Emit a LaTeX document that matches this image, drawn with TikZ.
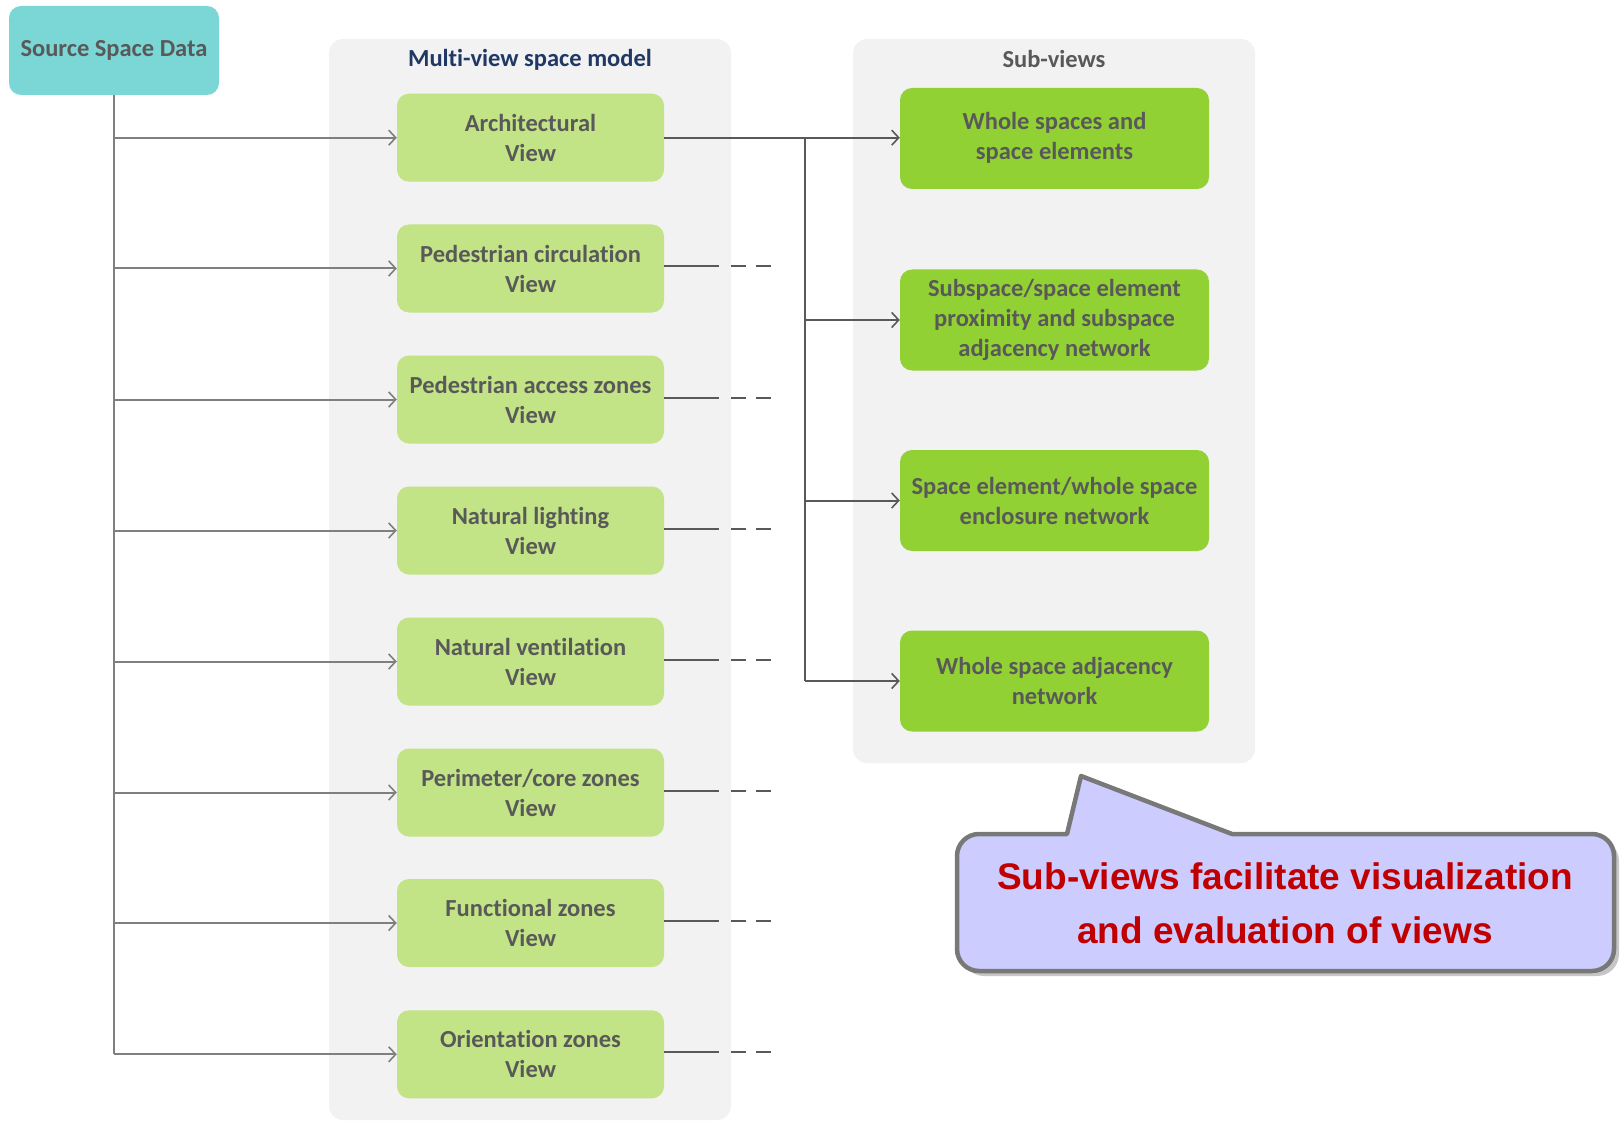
\documentclass[tikz,border=0pt]{standalone}
\usepackage{fontspec}
\setmainfont{Carlito}[Ligatures=NoCommon]
\newfontfamily\arialfont{Liberation Sans}
\usetikzlibrary{arrows.meta,shadows}
\definecolor{txtgray}{HTML}{595959}
\definecolor{navy}{HTML}{1F3864}
\definecolor{srcfill}{HTML}{7AD7D6}
\definecolor{lightgreen}{HTML}{C2E386}
\definecolor{darkgreen}{HTML}{92D134}
\definecolor{panelgray}{HTML}{F2F2F2}
\definecolor{leftline}{HTML}{7F7F7F}
\definecolor{rightline}{HTML}{595959}
\definecolor{calloutfill}{HTML}{CCCCFF}
\definecolor{calloutline}{HTML}{787878}
\definecolor{calloutred}{HTML}{C00000}
\tikzset{
  boxtext/.style={font=\bfseries\fontsize{24.5}{30}\selectfont, text=txtgray, align=center},
  srcbox/.style={boxtext, fill=srcfill, rounded corners=12pt, minimum width=210pt, minimum height=88pt},
  viewbox/.style={boxtext, fill=lightgreen, rounded corners=12pt, minimum width=267pt, minimum height=88pt},
  subbox/.style={boxtext, fill=darkgreen, rounded corners=12pt, minimum width=309pt, minimum height=101pt},
  panel/.style={fill=panelgray, rounded corners=14pt},
  barb/.style={-{Straight Barb[length=7pt,width=15pt,line width=1.6pt]}},
  lline/.style={draw=leftline, line width=2pt},
  rline/.style={draw=rightline, line width=2pt},
  stub/.style={draw=rightline, line width=2pt},
}
\begin{document}
\begin{tikzpicture}[x=1pt,y=-1pt]
\useasboundingbox (0,0) rectangle (1624,1123);
% panels
\path[panel] (329,39) rectangle (731,1120);
\path[panel] (853,39) rectangle (1255,763);
\node[font=\bfseries\fontsize{24.5}{30}\selectfont, text=navy] (t1) at (530,60) {Multi-view space model};
\node[font=\bfseries\fontsize{24.5}{30}\selectfont, text=txtgray] (t2) at (1054,59) {Sub-views};
% source
\node[srcbox, minimum height=89pt] (src) at (114,50.5) {\raisebox{-2pt}{Source Space Data}};
% views
\node[viewbox] (v1) at (530.5,137.7) {Architectural\\View};
\node[viewbox] (v2) at (530.5,268.5) {Pedestrian circulation\\View};
\node[viewbox] (v3) at (530.5,399.5) {Pedestrian access zones\\View};
\node[viewbox] (v4) at (530.5,530.5) {Natural lighting\\View};
\node[viewbox] (v5) at (530.5,661.5) {Natural ventilation\\View};
\node[viewbox] (v6) at (530.5,792.5) {Perimeter/core zones\\View};
\node[viewbox] (v7) at (530.5,923) {Functional zones\\View};
\node[viewbox] (v8) at (530.5,1054.3) {Orientation zones\\View};
% sub-views
\node[subbox] (s1) at (1054.5,138.5) {\raisebox{-2pt}{\begin{tabular}{@{}c@{}}Whole spaces and\\space elements\end{tabular}}};
\node[subbox] (s2) at (1054.5,320) {Subspace/space element\\proximity and subspace\\adjacency network};
\node[subbox] (s3) at (1054.5,500.5) {Space element/whole space\\enclosure network};
\node[subbox] (s4) at (1054.5,681) {Whole space adjacency\\network};
% trunk
\draw[lline] (src.south) -- (src.south |- v8.west);
\foreach \v in {v1,v2,v3,v4,v5,v6,v7,v8}{
  \draw[lline,barb] (src.south |- \v.west) -- (\v.west);
}
% stubs
\foreach \v in {v2,v3,v4,v5,v6,v7,v8}{
  \draw[stub] ([yshift=2pt]\v.east) -- ++(55,0) ++(12,0) -- ++(15,0) ++(10,0) -- ++(15,0);
}
% right branch
\coordinate (br) at (805,137.7);
\draw[rline,barb] (v1.east) -- (s1.west |- v1.east);
\draw[rline] (br) -- (br |- s4.west);
\foreach \s in {s2,s3,s4}{
  \draw[rline,barb] (br |- \s.west) -- (\s.west);
}
% callout
\path[fill=calloutfill, draw=calloutline, line width=4.5pt, line join=round,
  drop shadow={opacity=0.45, shadow xshift=5pt, shadow yshift=-5pt}]
  (957,900) [rounded corners=22pt] -- (957,834) [sharp corners] -- (1067,834) -- (1081,776) -- (1232,834) [rounded corners=22pt] -- (1614,834) -- (1614,971) -- (957,971) -- cycle;
\node[font=\arialfont\bfseries\fontsize{37}{54}\selectfont, text=calloutred, align=center] (ct) at (1285,903) {Sub-views facilitate visualization\\and evaluation of views};
\end{tikzpicture}
\end{document}
